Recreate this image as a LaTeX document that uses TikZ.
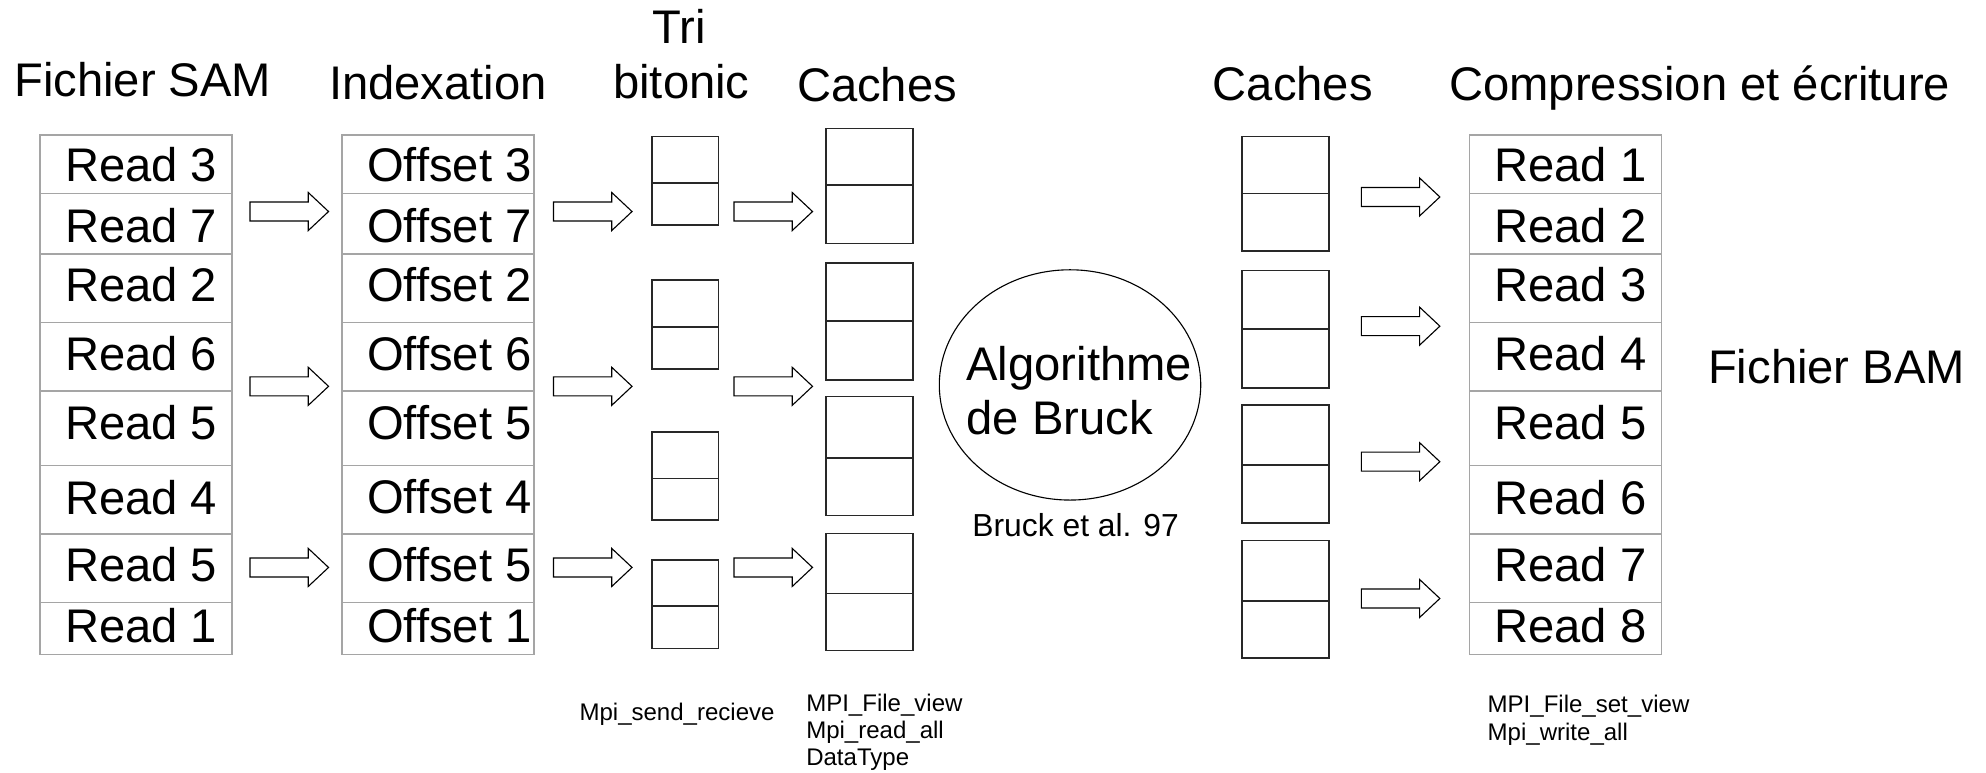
\documentclass[tikz,border=0pt]{standalone}
\usepackage{fontspec}
\setmainfont{Liberation Sans}
\usetikzlibrary{shapes.geometric}

\newdimen\pxu
\pxu=0.02cm
\newcommand\bigtxt{\fontsize{21.2pt}{24.4pt}\selectfont}
\newcommand\midtxt{\fontsize{14.3pt}{16.5pt}\selectfont}
\newcommand\smalltxt{\fontsize{10.8pt}{12.2pt}\selectfont}

\definecolor{cellgray}{RGB}{165,165,165}
\definecolor{boxline}{RGB}{40,40,40}

\tikzset{
  cell/.style={draw=cellgray, line width=0.7pt, rectangle, inner sep=0pt,
    anchor=north west, minimum width=151.5\pxu},
  celltext/.style={anchor=west, inner sep=0pt, font=\bigtxt},
  half/.style={draw=boxline, line width=0.7pt, rectangle, inner sep=0pt,
    anchor=north west},
  title/.style={anchor=base, inner sep=0pt, font=\bigtxt},
  note/.style={anchor=base west, inner sep=0pt, align=left, font=\smalltxt},
  arrowline/.style={draw=black, line width=0.5pt, fill=white},
  blockarrow/.pic={
    \draw[arrowline] (0,-7.5) -- (46,-7.5) -- (46,-15) -- (62,0)
      -- (46,15) -- (46,7.5) -- (0,7.5) -- cycle;
  }
}

\begin{document}
\begin{tikzpicture}[x=0.02cm, y=-0.02cm]
\useasboundingbox (0,0) rectangle (1568,610);
\fill[white] (0,0) rectangle (1568,610);

% column headings
\node[title] (hsam)  at (112.7,76.3) {Fichier SAM};
\node[title] (hidx)  at (345.8,78.5) {Indexation};
\node[title] (htri)  at (536.4,34.2) {Tri};
\node[title] (hbit)  at (538,77.6)   {bitonic};
\node[title] (hcl)   at (692.4,80)   {Caches};
\node[title] (hcr)   at (1020.7,79)  {Caches};
\node[title] (hcomp) at (1342,79)    {Compression et écriture};
\node[title] (hbam)  at (1450,302.6) {Fichier BAM};

% the three tables of reads / offsets
\foreach \i/\top/\h/\ty/\sam/\out in {
    1/106/46/130/3/1, 2/152/48/178/7/2, 3/200/54/225/2/3, 4/254/54/279/6/4,
    5/308/59/334/5/5, 6/367/54/392.5/4/6, 7/421/54/446/5/7, 8/475/41/494/1/8} {
  \node[cell, minimum height=\h\pxu] (sam\i) at (31,\top) {};
  \node[celltext] (samtxt\i) at (51,\ty) {Read \sam};
  \node[cell, minimum height=\h\pxu] (off\i) at (269.6,\top) {};
  \node[celltext] (offtxt\i) at (289.6,\ty) {Offset \sam};
  \node[cell, minimum height=\h\pxu] (bam\i) at (1159.5,\top) {};
  \node[celltext] (bamtxt\i) at (1179.5,\ty) {Read \out};
}

% bitonic sort buffers
\foreach \i/\t/\m/\b in {1/107/144/177, 2/220.5/257.5/290.5,
    3/340.5/377/410, 4/441.5/478/511.5} {
  \pgfmathsetmacro\ha{\m-\t}
  \pgfmathsetmacro\hb{\b-\m}
  \node[half, minimum width=52.6\pxu, minimum height=\ha\pxu] (tri\i a) at (514.2,\t) {};
  \node[half, minimum width=52.6\pxu, minimum height=\hb\pxu] (tri\i b) at (514.2,\m) {};
}

% caches before the exchange
\foreach \i/\t/\m/\b in {1/101/145.5/191.5, 2/207/253/299.5,
    3/312.5/361/406.5, 4/420.5/468/513} {
  \pgfmathsetmacro\ha{\m-\t}
  \pgfmathsetmacro\hb{\b-\m}
  \node[half, minimum width=68.3\pxu, minimum height=\ha\pxu] (cl\i a) at (651.7,\t) {};
  \node[half, minimum width=68.3\pxu, minimum height=\hb\pxu] (cl\i b) at (651.7,\m) {};
}

% caches after the exchange
\foreach \i/\t/\m/\b in {1/107/152/197.5, 2/213/259/305.5,
    3/319/366.5/412.5, 4/426/474/519} {
  \pgfmathsetmacro\ha{\m-\t}
  \pgfmathsetmacro\hb{\b-\m}
  \node[half, minimum width=68.9\pxu, minimum height=\ha\pxu] (cr\i a) at (979.8,\t) {};
  \node[half, minimum width=68.9\pxu, minimum height=\hb\pxu] (cr\i b) at (979.8,\m) {};
}

% Bruck all-to-all exchange
\node[draw, ellipse, line width=0.5pt, inner sep=0pt,
      minimum width=206.4\pxu, minimum height=181.8\pxu] (bruck) at (844.8,303.9) {};
% multi-line nodes: the base anchor sits on the last line
\node[anchor=base west, inner sep=0pt, align=left, font=\bigtxt] (brucktxt)
      at (762.7,343.4) {Algorithme\\de Bruck};
\node[anchor=base, inner sep=0pt, font=\midtxt] (bruckref) at (849.2,423.2) {Bruck et al. 97};

% block arrows between stages
\foreach \y in {167,305,448} {
  \pic at (197.4,\y) {blockarrow};
  \pic at (437,\y) {blockarrow};
  \pic at (579.5,\y) {blockarrow};
}
\foreach \y in {155.5,257.5,364.5,472.5} {
  \pic at (1074.8,\y) {blockarrow};
}

% MPI calls used at each step
\node[note] (nsend)  at (457.2,568.5) {Mpi\_send\_recieve};
\node[note] (nread)  at (636.2,604.5) {MPI\_File\_view\\Mpi\_read\_all\\DataType};
\node[note] (nwrite) at (1174.2,584.3) {MPI\_File\_set\_view\\Mpi\_write\_all};
\end{tikzpicture}
\end{document}
